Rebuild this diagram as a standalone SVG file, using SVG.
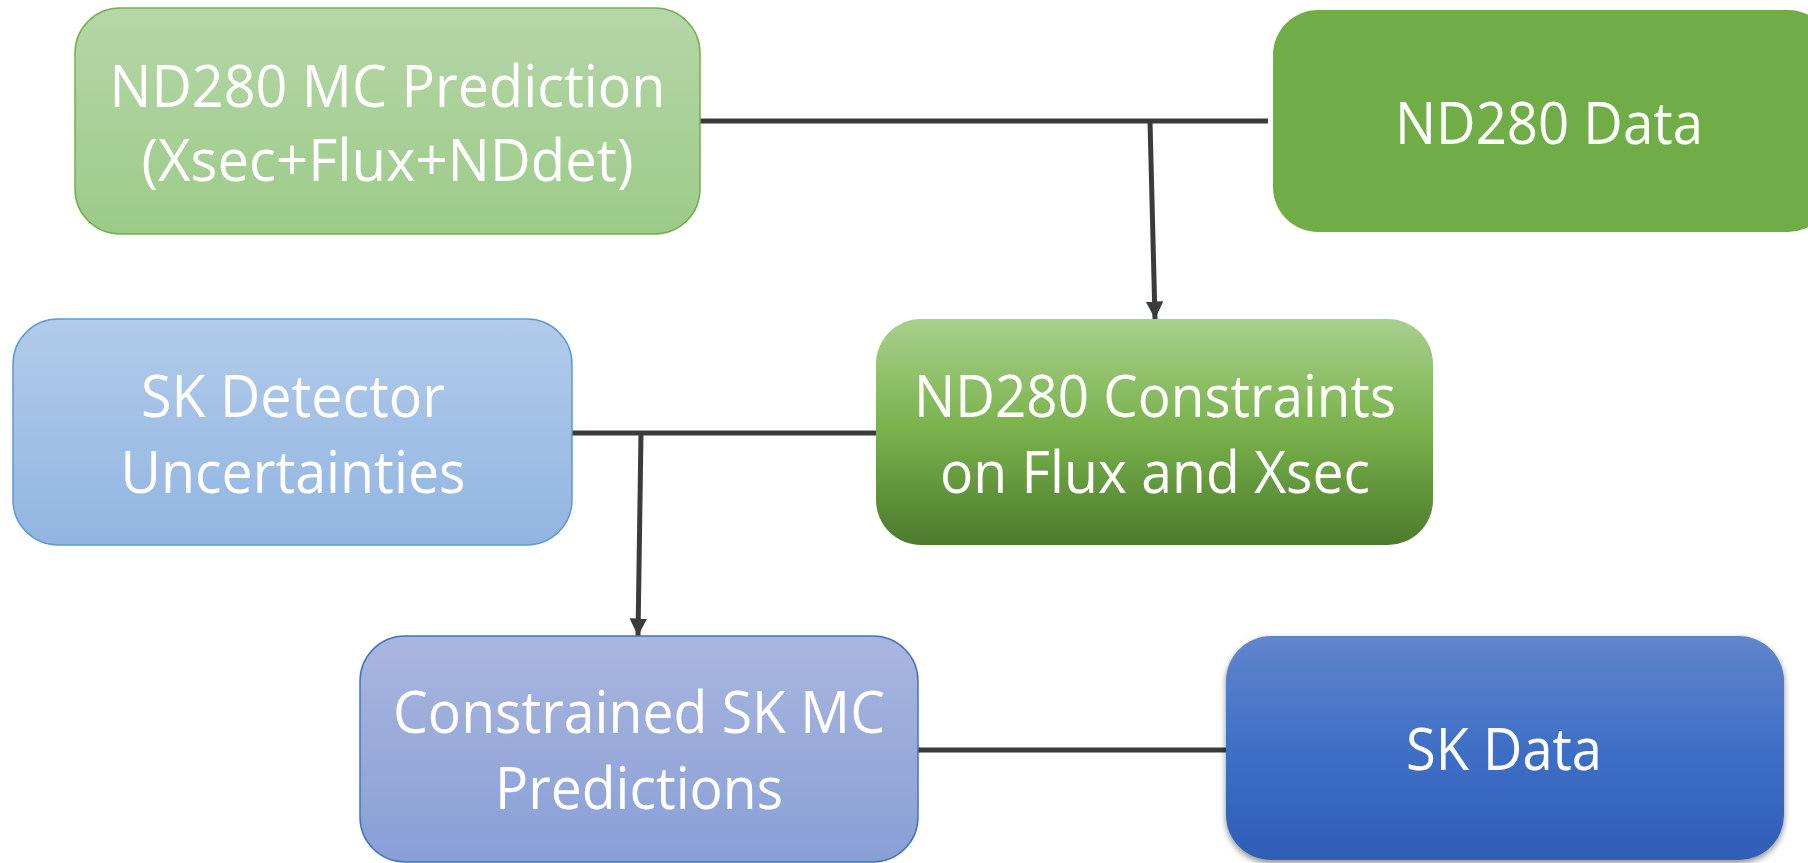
<svg xmlns="http://www.w3.org/2000/svg" width="1808" height="863" viewBox="0 0 1808 863">
<style>
text{font-family:"Open Sans","Liberation Sans",sans-serif;font-size:58px;fill:#ffffff;text-anchor:middle}
.conn{stroke:#3b3b3b;stroke-width:5;fill:none}
</style>
<defs>
<linearGradient id="gMC" x1="0" y1="0" x2="0" y2="1"><stop offset="0" stop-color="#b6d6a8"/><stop offset="1" stop-color="#9ccb88"/></linearGradient>
<linearGradient id="gSKD" x1="0" y1="0" x2="0" y2="1"><stop offset="0" stop-color="#b2cbe9"/><stop offset="1" stop-color="#91b5e2"/></linearGradient>
<linearGradient id="gCon" x1="0" y1="0" x2="0" y2="1"><stop offset="0" stop-color="#a8d08d"/><stop offset="0.5" stop-color="#78b14a"/><stop offset="1" stop-color="#4d7a2e"/></linearGradient>
<linearGradient id="gSKMC" x1="0" y1="0" x2="0" y2="1"><stop offset="0" stop-color="#a9b6df"/><stop offset="1" stop-color="#889fd6"/></linearGradient>
<linearGradient id="gSKData" x1="0" y1="0" x2="0" y2="1"><stop offset="0" stop-color="#6186cc"/><stop offset="0.5" stop-color="#3f6fc6"/><stop offset="1" stop-color="#2f5eb7"/></linearGradient>
<filter id="shadow" x="-5%" y="-5%" width="110%" height="115%"><feDropShadow dx="0" dy="3" stdDeviation="3" flood-color="#000" flood-opacity="0.45"/></filter>
<marker id="arr" viewBox="0 0 10 10" refX="10" refY="5" markerWidth="3.5" markerHeight="3.5" orient="auto" markerUnits="strokeWidth"><path d="M0,0 L10,5 L0,10 Z" fill="#3b3b3b"/></marker>
</defs>
<g id="connectors">
<line class="conn" x1="700" y1="121" x2="1268" y2="121"/>
<line class="conn" x1="1150" y1="121" x2="1155" y2="319" marker-end="url(#arr)"/>
<line class="conn" x1="572" y1="433" x2="876" y2="433"/>
<line class="conn" x1="641" y1="433" x2="638" y2="636" marker-end="url(#arr)"/>
<line class="conn" x1="918" y1="750" x2="1226" y2="750"/>
</g>
<g id="nd280mc">
<rect x="75" y="8" width="625" height="226" rx="45" fill="url(#gMC)" stroke="#74b04c" stroke-width="1.5"/>
<text x="387.5" y="107" textLength="556" lengthAdjust="spacingAndGlyphs">ND280 MC Prediction</text>
<text x="387.5" y="181" textLength="492" lengthAdjust="spacingAndGlyphs">(Xsec+Flux+NDdet)</text>
</g>
<g id="nd280data">
<rect x="1273" y="10" width="560" height="222" rx="45" fill="#70ad47"/>
<text x="1549" y="144" textLength="308" lengthAdjust="spacingAndGlyphs">ND280 Data</text>
</g>
<g id="skdet">
<rect x="13" y="319" width="559" height="226" rx="45" fill="url(#gSKD)" stroke="#5b9bd5" stroke-width="1.5"/>
<text x="293" y="417" textLength="304" lengthAdjust="spacingAndGlyphs">SK Detector</text>
<text x="293" y="493" textLength="345" lengthAdjust="spacingAndGlyphs">Uncertainties</text>
</g>
<g id="nd280con">
<rect x="876" y="319" width="557" height="226" rx="45" fill="url(#gCon)"/>
<text x="1155" y="417" textLength="482" lengthAdjust="spacingAndGlyphs">ND280 Constraints</text>
<text x="1155" y="493" textLength="430" lengthAdjust="spacingAndGlyphs">on Flux and Xsec</text>
</g>
<g id="skmc">
<rect x="360" y="636" width="558" height="226" rx="45" fill="url(#gSKMC)" stroke="#4472c4" stroke-width="1.5"/>
<text x="639" y="733" textLength="492" lengthAdjust="spacingAndGlyphs">Constrained SK MC</text>
<text x="639" y="809" textLength="288" lengthAdjust="spacingAndGlyphs">Predictions</text>
</g>
<g id="skdata">
<rect x="1226" y="636" width="558" height="224" rx="45" fill="url(#gSKData)" filter="url(#shadow)"/>
<text x="1504" y="770" textLength="196" lengthAdjust="spacingAndGlyphs">SK Data</text>
</g>
</svg>
